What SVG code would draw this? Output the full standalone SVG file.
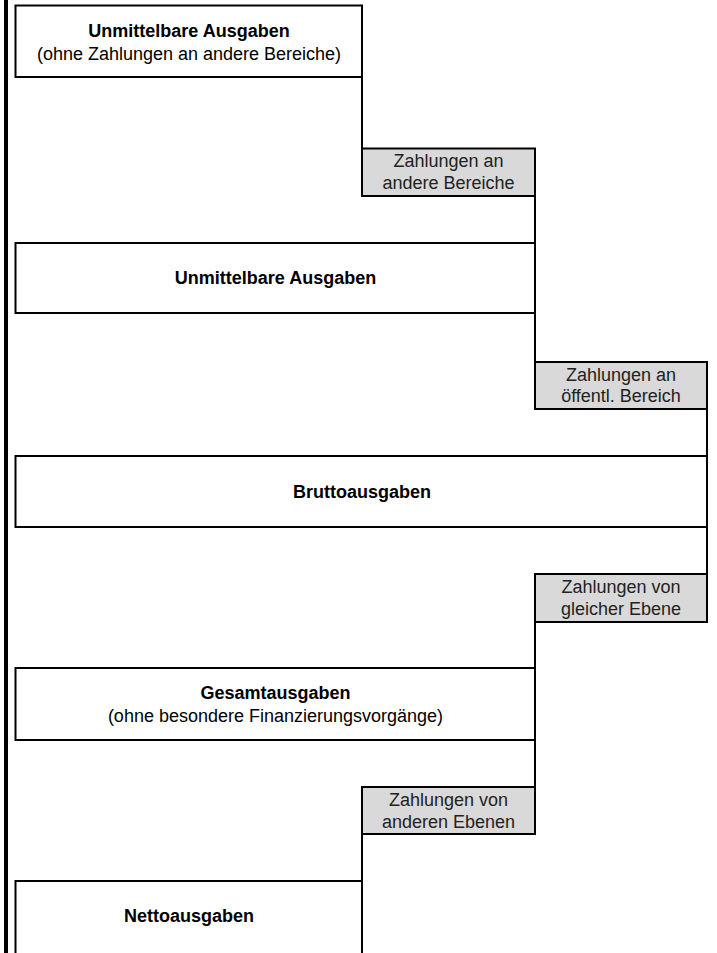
<svg xmlns="http://www.w3.org/2000/svg" width="717" height="953" viewBox="0 0 717 953">
<style>
.box{fill:#ffffff;stroke:#000;stroke-width:2}
.lab{fill:#d9d9d9;stroke:#000;stroke-width:2}
.con{fill:none;stroke:#000;stroke-width:2}
.t{font-family:"Liberation Sans",Arial,sans-serif;font-size:18px;text-anchor:middle;fill:#000}
.b{font-weight:bold}
.lt{font-family:"Liberation Sans",Arial,sans-serif;font-size:18px;text-anchor:middle;fill:#222}
</style>
<rect x="0" y="0" width="717" height="953" fill="#fff"/>
<rect x="4" y="0" width="4" height="953" fill="#000"/>
<g id="connectors">
<line class="con" x1="362" y1="77" x2="362" y2="148.5"/>
<line class="con" x1="535" y1="196" x2="535" y2="243"/>
<line class="con" x1="535" y1="313" x2="535" y2="362"/>
<line class="con" x1="707" y1="409" x2="707" y2="456"/>
<line class="con" x1="707" y1="527" x2="707" y2="574"/>
<line class="con" x1="535" y1="622" x2="535" y2="668"/>
<line class="con" x1="535" y1="740" x2="535" y2="787"/>
<line class="con" x1="362" y1="834" x2="362" y2="881"/>
</g>
<g id="box1">
<rect class="box" x="15.5" y="5.5" width="346.5" height="71.5"/>
<text class="t b" x="189" y="36.5">Unmittelbare Ausgaben</text>
<text class="t" x="189" y="60">(ohne Zahlungen an andere Bereiche)</text>
</g>
<g id="label1">
<rect class="lab" x="362" y="148.5" width="173" height="47.5"/>
<text class="lt" x="448.5" y="167">Zahlungen an</text>
<text class="lt" x="448.5" y="189">andere Bereiche</text>
</g>
<g id="box2">
<rect class="box" x="15.5" y="243" width="519.5" height="70"/>
<text class="t b" x="275.5" y="284">Unmittelbare Ausgaben</text>
</g>
<g id="label2">
<rect class="lab" x="535" y="362" width="172" height="47"/>
<text class="lt" x="621" y="381">Zahlungen an</text>
<text class="lt" x="621" y="402">öffentl. Bereich</text>
</g>
<g id="box3">
<rect class="box" x="15.5" y="456" width="691.5" height="71"/>
<text class="t b" x="362" y="497.5">Bruttoausgaben</text>
</g>
<g id="label3">
<rect class="lab" x="535" y="574" width="172" height="48"/>
<text class="lt" x="621" y="593">Zahlungen von</text>
<text class="lt" x="621" y="615">gleicher Ebene</text>
</g>
<g id="box4">
<rect class="box" x="15.5" y="668" width="519.5" height="72"/>
<text class="t b" x="275.5" y="699">Gesamtausgaben</text>
<text class="t" x="275.5" y="722">(ohne besondere Finanzierungsvorgänge)</text>
</g>
<g id="label4">
<rect class="lab" x="362" y="787" width="173" height="47"/>
<text class="lt" x="448.5" y="806">Zahlungen von</text>
<text class="lt" x="448.5" y="828">anderen Ebenen</text>
</g>
<g id="box5">
<rect class="box" x="15.5" y="881" width="346.5" height="80"/>
<text class="t b" x="189" y="922">Nettoausgaben</text>
</g>
</svg>
